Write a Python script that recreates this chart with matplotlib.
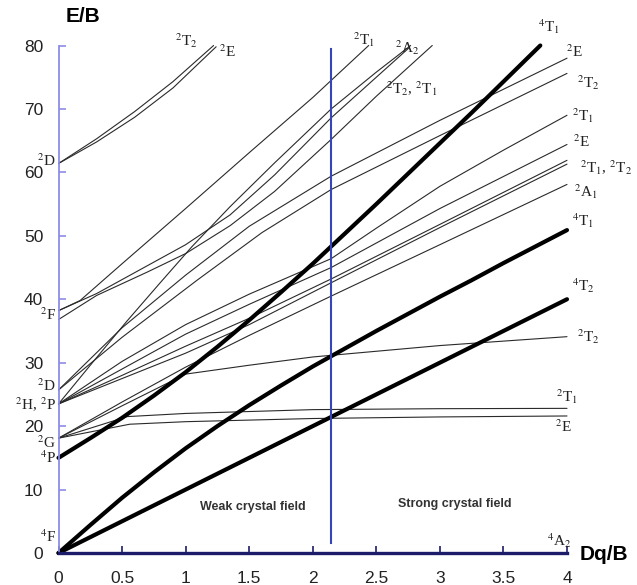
import matplotlib
matplotlib.use("Agg")
import matplotlib.pyplot as plt

plt.rcParams['mathtext.fontset'] = 'stix'

# ---------------- data ----------------
# quartet states (thick lines)
q4T2_x = [0, 4]
q4T2_y = [0, 40]
q4T1F_x = [0, 0.25, 0.5, 0.75, 1, 1.25, 1.5, 1.75, 2, 2.25, 2.5, 2.75, 3, 3.25, 3.5, 3.75, 4]
q4T1F_y = [0, 4.4, 8.7, 12.7, 16.5, 20.0, 23.3, 26.4, 29.4, 32.2, 35.0, 37.7, 40.4, 43.0, 45.7, 48.3, 50.9]
q4T1P_x = [0, 0.25, 0.5, 0.75, 1, 1.25, 1.5, 1.75, 2, 2.25, 2.5, 2.75, 3, 3.25, 3.5, 3.79]
q4T1P_y = [15, 18.1, 21.3, 24.8, 28.5, 32.5, 36.7, 41.1, 45.6, 50.3, 55.0, 59.8, 64.6, 69.4, 74.3, 80]

# doublet states (thin lines)
d2E_flat_x = [0, 0.56, 1, 2, 3, 4]
d2E_flat_y = [18.1, 20.3, 20.7, 21.2, 21.45, 21.6]
d2T1_flat_x = [0, 0.54, 1, 2, 3, 4]
d2T1_flat_y = [18.1, 21.5, 22.0, 22.6, 22.75, 22.8]
d2T2_flat_x = [0, 0.5, 1, 1.5, 2, 3, 4]
d2T2_flat_y = [18.1, 23.2, 28.2, 29.6, 30.9, 32.7, 34.1]

d2A1_x = [0, 0.5, 1, 1.5, 2.145, 3, 4]
d2A1_y = [18.1, 23.8, 29.3, 34.3, 40.5, 48.6, 58.1]
d2T2c_x = [0, 0.5, 1, 1.5, 2.145, 3, 4]
d2T2c_y = [23.5, 27.5, 31.5, 36.0, 42.6, 51.3, 61.3]
d2T1c_x = [0, 0.5, 1, 1.5, 2.145, 3, 4]
d2T1c_y = [23.5, 28.0, 32.6, 37.0, 43.2, 51.8, 61.9]
d2E_b_x = [0, 0.5, 1, 1.5, 2.145, 3, 4]
d2E_b_y = [23.5, 29.0, 34.5, 39.2, 45.0, 54.3, 64.4]
d2T1_b_x = [0, 0.5, 1, 1.5, 2.145, 2.5, 3, 3.5, 4]
d2T1_b_y = [23.5, 30.2, 36.0, 40.8, 46.4, 51.2, 57.8, 63.5, 69.0]
d2T2_b_x = [0, 0.5, 1.09, 1.6, 2.145, 3, 4]
d2T2_b_y = [25.7, 34.0, 43.0, 50.5, 57.3, 65.8, 75.6]
d2E_c_x = [0, 0.5, 1.0, 1.5, 2.145, 3, 4]
d2E_c_y = [25.7, 35.5, 43.8, 51.5, 59.4, 68.2, 78.0]

top1_x = [0, 0.17, 0.5, 1.0, 1.5, 2.0, 2.44]
top1_y = [38.2, 39.8, 45.6, 54.3, 63.1, 71.8, 80]
top2_x = [0, 0.3, 0.7, 1.0, 1.35, 1.7, 2.145, 2.5, 2.75]
top2_y = [38.2, 40.9, 45.3, 48.6, 53.3, 59.6, 68.6, 75.0, 79.5]
top3_x = [0, 0.25, 0.536, 0.8, 1.05, 1.35, 1.7, 2.145, 2.5, 2.77]
top3_y = [23.5, 29.6, 36.5, 42.6, 48.3, 54.6, 61.5, 70.0, 75.8, 80]
top4_x = [0, 0.3, 0.7, 1.0, 1.35, 1.7, 2.145, 2.5, 2.94]
top4_y = [36.8, 40.6, 44.3, 47.2, 51.6, 57.0, 65.2, 72.0, 80]

d2T2_e_x = [0, 0.3, 0.6, 0.9, 1.22]
d2T2_e_y = [61.4, 65.3, 69.6, 74.3, 80]
d2E_e_x = [0, 0.3, 0.6, 0.9, 1.24]
d2E_e_y = [61.4, 64.8, 68.7, 73.3, 79.8]

quartets = [(q4T2_x, q4T2_y), (q4T1F_x, q4T1F_y), (q4T1P_x, q4T1P_y)]
doublets = [(d2E_flat_x, d2E_flat_y), (d2T1_flat_x, d2T1_flat_y),
            (d2T2_flat_x, d2T2_flat_y), (d2A1_x, d2A1_y),
            (d2T2c_x, d2T2c_y), (d2T1c_x, d2T1c_y), (d2E_b_x, d2E_b_y),
            (d2T1_b_x, d2T1_b_y), (d2T2_b_x, d2T2_b_y), (d2E_c_x, d2E_c_y),
            (top1_x, top1_y), (top2_x, top2_y), (top3_x, top3_y),
            (top4_x, top4_y), (d2T2_e_x, d2T2_e_y), (d2E_e_x, d2E_e_y)]

divider_x = 2.145
x_ticks = [0, 0.5, 1, 1.5, 2, 2.5, 3, 3.5, 4]
x_ticklabels = ['0', '0.5', '1', '1.5', '2', '2.5', '3', '3.5', '4']
y_ticks = [0, 10, 20, 30, 40, 50, 60, 70, 80]

# term labels: (text, x, y, ha)
left_labels = [(r'$^{2}$D', -0.02, 61.8, 'right'),
               (r'$^{2}$F', -0.02, 37.6, 'right'),
               (r'$^{2}$D', -0.02, 26.3, 'right'),
               (r'$^{2}$H, $^{2}$P', -0.02, 23.3, 'right'),
               (r'$^{2}$G', -0.02, 17.4, 'right'),
               (r'$^{4}$P', -0.02, 15.0, 'right'),
               (r'$^{4}$F', -0.02, 2.6, 'right')]
other_labels = [(r'$^{2}$T$_{2}$', 1.01, 80.7, 'center'),
                (r'$^{2}$E', 1.33, 79.0, 'center'),
                (r'$^{2}$T$_{1}$', 2.40, 80.9, 'center'),
                (r'$^{2}$A$_{2}$', 2.74, 79.6, 'center'),
                (r'$^{2}$T$_{2}$, $^{2}$T$_{1}$', 2.78, 73.2, 'center'),
                (r'$^{4}$T$_{1}$', 3.86, 82.9, 'center'),
                (r'$^{2}$E', 4.06, 79.0, 'center'),
                (r'$^{2}$T$_{2}$', 4.17, 74.2, 'center'),
                (r'$^{2}$T$_{1}$', 4.13, 69.0, 'center'),
                (r'$^{2}$E', 4.11, 64.8, 'center'),
                (r'$^{2}$T$_{1}$, $^{2}$T$_{2}$', 4.31, 60.8, 'center'),
                (r'$^{2}$A$_{1}$', 4.15, 56.9, 'center'),
                (r'$^{4}$T$_{1}$', 4.13, 52.4, 'center'),
                (r'$^{4}$T$_{2}$', 4.13, 42.2, 'center'),
                (r'$^{2}$T$_{2}$', 4.17, 34.1, 'center'),
                (r'$^{2}$T$_{1}$', 4.00, 24.6, 'center'),
                (r'$^{2}$E', 3.97, 19.9, 'center'),
                (r'$^{4}$A$_{2}$', 3.94, 1.9, 'center')]

# ---------------- drawing ----------------
fig = plt.figure(figsize=(6.37, 5.85), dpi=100)
ax = fig.add_axes([58.5 / 637, 32 / 585, (567 - 58.5) / 637, (553 - 45.5) / 585])
ax.set_xlim(0, 4)
ax.set_ylim(0, 80)

for xs, ys in doublets:
    ax.plot(xs, ys, color='#2a2a2a', lw=0.8, solid_joinstyle='round',
            solid_capstyle='round', clip_on=False)
for xs, ys in quartets:
    ax.plot(xs, ys, color='black', lw=3.0, solid_joinstyle='round',
            solid_capstyle='round', clip_on=False)

ax.plot([divider_x, divider_x], [1.5, 79.5], color='#3646b8', lw=1.5)

for s in ['top', 'right']:
    ax.spines[s].set_visible(False)
ax.spines['left'].set_color('#8c8ce6')
ax.spines['left'].set_linewidth(1.3)
ax.spines['bottom'].set_color('#1c1c6a')
ax.spines['bottom'].set_linewidth(2.4)

ax.set_xticks(x_ticks)
ax.set_xticklabels(x_ticklabels)
ax.set_yticks(y_ticks)
ax.tick_params(axis='y', direction='in', length=5, width=1.2, color='#8c8ce6',
               pad=11, labelsize=12.5, labelcolor='#222222')
ax.tick_params(axis='x', direction='in', length=5, width=1.2, color='#1c1c6a',
               pad=13, labelsize=12.5, labelcolor='#222222')
for lab in ax.get_xticklabels() + ax.get_yticklabels():
    lab.set_fontfamily('Liberation Sans')

for txt, x, y, ha in left_labels + other_labels:
    ax.text(x, y, txt, ha=ha, va='center', fontsize=11,
            family='Liberation Serif', color='#222222', clip_on=False)

ax.text(1.525, 7.3, 'Weak crystal field', ha='center', va='center',
        fontsize=9, fontweight='bold', family='Liberation Sans', color='#333333')
ax.text(3.117, 7.8, 'Strong crystal field', ha='center', va='center',
        fontsize=9, fontweight='bold', family='Liberation Sans', color='#333333')

fig.text(83 / 637, 1 - 17 / 585, 'E/B', ha='center', va='center', fontsize=15,
         fontweight='bold', family='Liberation Sans')
fig.text(604 / 637, 1 - 555 / 585, 'Dq/B', ha='center', va='center', fontsize=15,
         fontweight='bold', family='Liberation Sans')

fig.savefig('out.png', dpi=100)
